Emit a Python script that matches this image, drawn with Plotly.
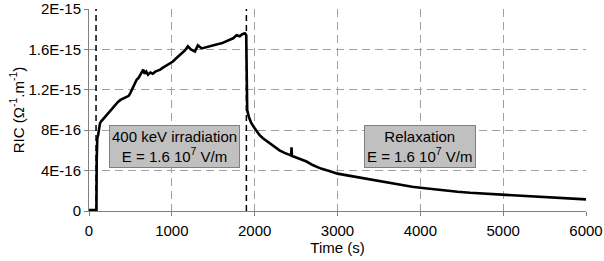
import plotly.graph_objects as go

# ---- data ----
time_s = [0, 30, 60, 90, 93, 95, 100, 110, 120, 133, 150, 170, 190, 217, 240, 260, 290,
          320, 350, 380, 422, 450, 480, 500, 530, 560, 575, 600, 630, 655, 670, 690,
          712, 740, 770, 800, 830, 860, 893, 930, 970, 1013, 1050, 1090, 1130, 1158,
          1194, 1230, 1279, 1315, 1360, 1400, 1450, 1500, 1550, 1600, 1661, 1700,
          1740, 1782, 1820, 1850, 1882, 1898,
          1902, 1910, 1930, 1960, 2000, 2060, 2100, 2150, 2220, 2300, 2360, 2425,
          2440, 2445, 2450, 2470, 2540, 2626, 2700, 2800, 2900, 3000, 3100, 3200,
          3300, 3400, 3500, 3600, 3700, 3800, 3900, 4000, 4150, 4300, 4450, 4600,
          4800, 5000, 5200, 5400, 5600, 5800, 6000]
ric = [0.01e-15, 0.01e-15, 0.01e-15, 0.01e-15, 0.5e-15, 0.68e-15, 0.72e-15, 0.75e-15, 0.80e-15,
       0.87e-15, 0.89e-15, 0.91e-15, 0.92e-15, 0.95e-15, 0.98e-15, 1.00e-15, 1.02e-15,
       1.05e-15, 1.08e-15, 1.10e-15, 1.12e-15, 1.13e-15, 1.14e-15, 1.17e-15, 1.22e-15,
       1.26e-15, 1.30e-15, 1.32e-15, 1.36e-15, 1.40e-15, 1.36e-15, 1.38e-15,
       1.35e-15, 1.37e-15, 1.36e-15, 1.38e-15, 1.39e-15, 1.40e-15, 1.42e-15, 1.44e-15,
       1.46e-15, 1.48e-15, 1.51e-15, 1.54e-15, 1.57e-15, 1.59e-15,
       1.63e-15, 1.60e-15, 1.58e-15, 1.64e-15, 1.61e-15, 1.62e-15, 1.63e-15, 1.64e-15,
       1.65e-15, 1.66e-15, 1.68e-15, 1.69e-15, 1.71e-15, 1.74e-15, 1.73e-15, 1.75e-15,
       1.76e-15, 1.74e-15,
       1.05e-15, 1.00e-15, 0.93e-15, 0.87e-15, 0.82e-15, 0.75e-15, 0.72e-15, 0.69e-15,
       0.65e-15, 0.60e-15, 0.575e-15, 0.55e-15, 0.55e-15, 0.63e-15, 0.545e-15, 0.54e-15,
       0.515e-15, 0.49e-15, 0.455e-15, 0.42e-15, 0.395e-15, 0.37e-15, 0.355e-15, 0.34e-15,
       0.325e-15, 0.31e-15, 0.295e-15, 0.28e-15, 0.265e-15, 0.255e-15, 0.24e-15, 0.23e-15,
       0.215e-15, 0.20e-15, 0.19e-15, 0.18e-15, 0.17e-15, 0.158e-15, 0.148e-15,
       0.138e-15, 0.13e-15, 0.122e-15, 0.115e-15]

irradiation_start = 85
irradiation_end = 1900

x_ticks = [0, 1000, 2000, 3000, 4000, 5000, 6000]
y_ticks = [0, 4e-16, 8e-16, 1.2e-15, 1.6e-15, 2e-15]
y_tick_labels = ["0", "4E-16", "8E-16", "1.2E-15", "1.6E-15", "2E-15"]

label_irr = "400 keV irradiation<br>E = 1.6 10<sup>7</sup> V/m"
label_rel = "Relaxation<br>E = 1.6 10<sup>7</sup> V/m"
label_irr_pos = (1037, 6.35e-16)
label_rel_pos = (3993, 6.35e-16)

FONT = "Liberation Sans, Arial, sans-serif"

fig = go.Figure()

for xv in (irradiation_start, irradiation_end):
    fig.add_trace(go.Scatter(x=[xv, xv], y=[0, 2e-15], mode="lines",
                             line=dict(color="black", width=1.5, dash="6px,4px"),
                             showlegend=False, hoverinfo="skip"))

fig.add_trace(go.Scatter(x=time_s, y=ric, mode="lines",
                         line=dict(color="black", width=2.6),
                         showlegend=False))

for txt, pos in ((label_irr, label_irr_pos), (label_rel, label_rel_pos)):
    fig.add_annotation(x=pos[0], y=pos[1], xref="x", yref="y", text=txt,
                       showarrow=False, align="center",
                       font=dict(family=FONT, size=15, color="black"),
                       bgcolor="#c0c0c0", bordercolor="#808080", borderwidth=1,
                       borderpad=2)

fig.update_layout(
    width=604, height=261,
    margin=dict(l=89, r=18, t=9, b=50, autoexpand=False),
    paper_bgcolor="white", plot_bgcolor="white",
    font=dict(family=FONT, size=15, color="black"),
    showlegend=False,
)
fig.update_xaxes(
    range=[0, 6000], tickvals=x_ticks, ticktext=[str(v) for v in x_ticks],
    showgrid=True, gridcolor="#a0a0a0", griddash="8px,5px", gridwidth=1,
    showline=True, linecolor="#808080", linewidth=1,
    ticks="outside", ticklen=4, tickcolor="#808080",
    zeroline=False, tickfont=dict(size=15), automargin=False,
    ticklabeloverflow="allow", ticklabelstandoff=2,
    title=dict(text="Time (s)", font=dict(size=15), standoff=0),
)
fig.update_yaxes(
    range=[0, 2e-15], tickvals=y_ticks, ticktext=y_tick_labels,
    showgrid=True, gridcolor="#a0a0a0", griddash="8px,5px", gridwidth=1,
    showline=True, linecolor="#808080", linewidth=1,
    ticks="outside", ticklen=4, tickcolor="#808080",
    zeroline=False, tickfont=dict(size=15), automargin=False,
    ticklabeloverflow="allow",
    title=dict(text="RIC (Ω<sup>-1</sup>.m<sup>-1</sup>)", font=dict(size=15), standoff=0),
)

# remove the browser's default 8px body margin so the figure fills the window
fig.write_html("out.html",
               config={"displayModeBar": False},
               post_script="document.body.style.margin='0';document.body.style.overflow='hidden';")
